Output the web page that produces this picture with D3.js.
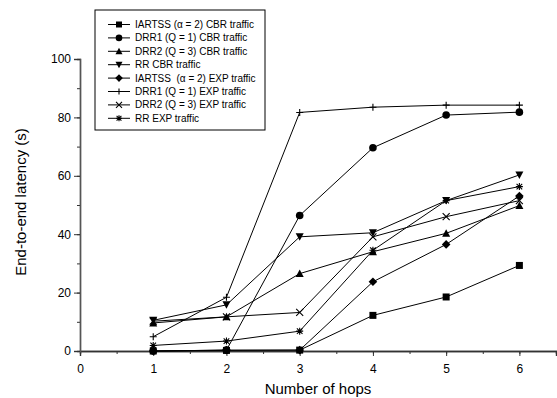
<!DOCTYPE html>
<html>
<head>
<meta charset="utf-8">
<script src="https://cdn.jsdelivr.net/npm/d3@7"></script>
<style>
  body { margin: 0; background: #fff; }
  text { font-family: Arial, "Liberation Sans", sans-serif; fill: #000; }
</style>
</head>
<body>
<div id="vis"></div>
<script>
// hops on the x axis
var hops = [1, 2, 3, 4, 5, 6];

var seriesNames = [
  'IARTSS (\u03b1 = 2) CBR traffic',
  'DRR1 (Q = 1) CBR traffic',
  'DRR2 (Q = 3) CBR traffic',
  'RR CBR traffic',
  'IARTSS  (\u03b1 = 2) EXP traffic',
  'DRR1 (Q = 1) EXP traffic',
  'DRR2 (Q = 3) EXP traffic',
  'RR EXP traffic'
];
var seriesMarkers = ['square', 'circle', 'triUp', 'triDown', 'diamond', 'plus', 'cross', 'star'];

// latency values (s)
var iartssCbr = [0, 0.2, 0.3, 12.2, 18.5, 29.3];
var drr1Cbr   = [0, 0.3, 46.4, 69.6, 80.8, 81.8];
var drr2Cbr   = [9.6, 11.7, 26.5, 34.0, 40.3, 49.8];
var rrCbr     = [10.5, 15.8, 39.1, 40.5, 51.5, 60.3];
var iartssExp = [0, 0.3, 0.3, 23.7, 36.5, 53.1];
var drr1Exp   = [4.9, 18.4, 81.7, 83.5, 84.2, 84.2];
var drr2Exp   = [10.2, 11.7, 13.2, 39.1, 46.0, 51.5];
var rrExp     = [1.9, 3.4, 6.8, 34.5, 51.5, 56.3];

var seriesValues = [iartssCbr, drr1Cbr, drr2Cbr, rrCbr, iartssExp, drr1Exp, drr2Exp, rrExp];

var xTicks = [0, 1, 2, 3, 4, 5, 6];
var yTicks = [0, 20, 40, 60, 80, 100];

var width = 557;
var height = 398;

var x = d3.scaleLinear().domain([0, 6.5]).range([80, 556]);
var y = d3.scaleLinear().domain([0, 100]).range([351, 59]);

var svg = d3.select('#vis')
  .append('svg')
  .attr('width', width)
  .attr('height', height);

// draws one marker of the given kind at (cx, cy)
function drawMarker(g, kind, cx, cy, s) {
  var h = s / 2;
  if (kind === 'square') {
    g.append('rect').attr('x', cx - h).attr('y', cy - h)
      .attr('width', s).attr('height', s).attr('fill', '#000');
  } else if (kind === 'circle') {
    g.append('circle').attr('cx', cx).attr('cy', cy).attr('r', h + 0.3).attr('fill', '#000');
  } else if (kind === 'triUp') {
    g.append('path').attr('fill', '#000')
      .attr('d', 'M' + cx + ',' + (cy - h - 0.5) + 'L' + (cx + h + 0.5) + ',' + (cy + h) + 'L' + (cx - h - 0.5) + ',' + (cy + h) + 'Z');
  } else if (kind === 'triDown') {
    g.append('path').attr('fill', '#000')
      .attr('d', 'M' + cx + ',' + (cy + h + 0.5) + 'L' + (cx + h + 0.5) + ',' + (cy - h) + 'L' + (cx - h - 0.5) + ',' + (cy - h) + 'Z');
  } else if (kind === 'diamond') {
    var d = h + 0.8;
    g.append('path').attr('fill', '#000')
      .attr('d', 'M' + cx + ',' + (cy - d) + 'L' + (cx + d) + ',' + cy + 'L' + cx + ',' + (cy + d) + 'L' + (cx - d) + ',' + cy + 'Z');
  } else {
    var p = '';
    if (kind === 'plus' || kind === 'star') {
      p += 'M' + (cx - h) + ',' + cy + 'H' + (cx + h) + 'M' + cx + ',' + (cy - h) + 'V' + (cy + h);
    }
    if (kind === 'cross' || kind === 'star') {
      var k = kind === 'star' ? h * 0.8 : h;
      p += 'M' + (cx - k) + ',' + (cy - k) + 'L' + (cx + k) + ',' + (cy + k) +
           'M' + (cx - k) + ',' + (cy + k) + 'L' + (cx + k) + ',' + (cy - k);
    }
    g.append('path').attr('d', p).attr('fill', 'none')
      .attr('stroke', '#000').attr('stroke-width', 1.1);
  }
}

// axes
var xAxis = svg.append('g').attr('transform', 'translate(0,' + y(0) + ')');
xAxis.call(d3.axisBottom(x).tickValues(d3.range(0, 6.51, 0.5)).tickSize(3).tickFormat(''));
xAxis.append('g').call(d3.axisBottom(x).tickValues(xTicks).tickSize(5).tickFormat(d3.format('d')));
xAxis.selectAll('.domain').attr('stroke', '#333').attr('stroke-width', 1.4);
xAxis.selectAll('.tick line').attr('stroke', '#333');
xAxis.selectAll('text').style('font-size', '12px').attr('dy', '1.15em').attr('fill', '#000');

var yAxis = svg.append('g').attr('transform', 'translate(' + x(0) + ',0)');
yAxis.call(d3.axisLeft(y).tickValues(d3.range(0, 101, 10)).tickSize(3).tickFormat(''));
yAxis.append('g').call(d3.axisLeft(y).tickValues(yTicks).tickSize(6).tickPadding(3));
yAxis.selectAll('.domain').attr('stroke', '#555').attr('stroke-width', 1.4);
yAxis.selectAll('.tick line').attr('stroke', '#333');
yAxis.selectAll('text').style('font-size', '12px').attr('fill', '#000');

// axis titles
svg.append('text')
  .attr('x', 318)
  .attr('y', 394)
  .attr('text-anchor', 'middle')
  .style('font-size', '15px')
  .text('Number of hops');

svg.append('text')
  .attr('transform', 'translate(26,202) rotate(-90)')
  .attr('text-anchor', 'middle')
  .style('font-size', '15px')
  .text('End-to-end latency (s)');

// series
var line = d3.line()
  .x(function (d, i) { return x(hops[i]); })
  .y(function (d) { return y(d); });

seriesValues.forEach(function (vals, si) {
  var g = svg.append('g');
  g.append('path')
    .attr('d', line(vals))
    .attr('fill', 'none')
    .attr('stroke', '#000')
    .attr('stroke-width', 1);
  vals.forEach(function (v, i) {
    drawMarker(g, seriesMarkers[si], x(hops[i]), y(v), 7);
  });
});

// legend
var legend = svg.append('g').attr('transform', 'translate(95,10)');
legend.append('rect')
  .attr('width', 170)
  .attr('height', 120)
  .attr('fill', '#fff')
  .attr('stroke', '#000')
  .attr('stroke-width', 1);

seriesNames.forEach(function (name, i) {
  var ly = 14.5 + i * 13.4;
  legend.append('line')
    .attr('x1', 13).attr('x2', 35)
    .attr('y1', ly).attr('y2', ly)
    .attr('stroke', '#000').attr('stroke-width', 1);
  drawMarker(legend, seriesMarkers[i], 24, ly, 6);
  legend.append('text')
    .attr('x', 40)
    .attr('y', ly + 3.5)
    .style('font-size', '10px')
    .style('white-space', 'pre')
    .text(name);
});
</script>
</body>
</html>
